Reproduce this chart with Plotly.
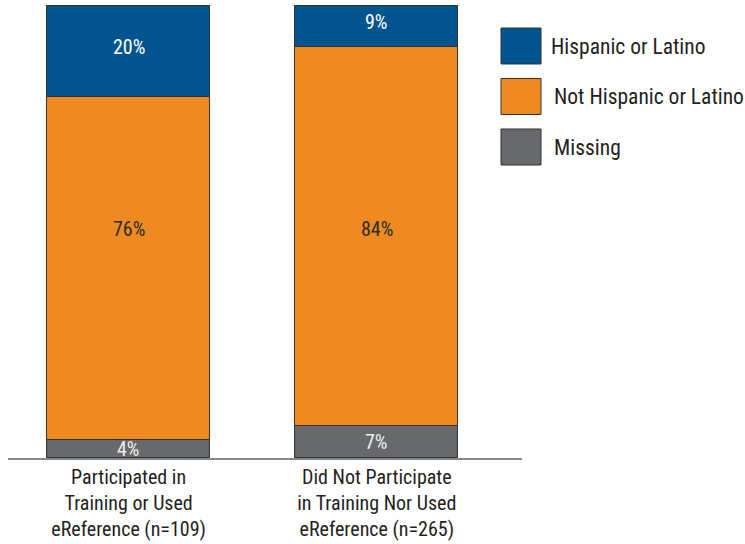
import plotly.graph_objects as go

categories = ["Participated in<br>Training or Used<br>eReference (n=109)",
              "Did Not Participate<br>in Training Nor Used<br>eReference (n=265)"]
series_names = ["Missing", "Not Hispanic or Latino", "Hispanic or Latino"]
missing = [4, 7]
not_hispanic = [76, 84]
hispanic = [20, 9]
label_texts = {
    "Missing": ["4%", "7%"],
    "Not Hispanic or Latino": ["76%", "84%"],
    "Hispanic or Latino": ["20%", "9%"],
}

colors = {"Hispanic or Latino": "#02548F",
          "Not Hispanic or Latino": "#EE8A21",
          "Missing": "#68696C"}
text_colors = {"Hispanic or Latino": "#FFFFFF",
               "Not Hispanic or Latino": "#2A2A2A",
               "Missing": "#EEEEEE"}
FONT = "Liberation Sans Narrow, Roboto Condensed, DejaVu Sans Condensed, Arial Narrow, sans-serif"

W, H = 745, 544
L, R, T, B = 8, 745 - 522, 5, 544 - 458
pw, ph = W - L - R, H - T - B

def px(x):
    return (x - L) / pw

def py(y):
    return (H - B - y) / ph

xs = [0, 1]
values = {"Missing": missing, "Not Hispanic or Latino": not_hispanic, "Hispanic or Latino": hispanic}

fig = go.Figure()
for name in series_names:
    fig.add_trace(go.Bar(
        x=xs, y=values[name], name=name, width=0.657,
        marker=dict(color=colors[name], line=dict(color="#333333", width=1)),
        showlegend=False, hoverinfo="skip"))

# value labels
base = [0, 0]
for name in series_names:
    for i in range(2):
        v = values[name][i]
        ymid = base[i] + v / 2
        if name == "Not Hispanic or Latino":
            ymid = 50.7
        if name == "Hispanic or Latino":
            ymid = base[i] + v / 2 + 1
        fig.add_annotation(x=xs[i], y=ymid, xref="x", yref="y", text=label_texts[name][i],
                           showarrow=False, font=dict(family=FONT, size=20, color=text_colors[name]))
    base = [base[i] + values[name][i] for i in range(2)]

# custom legend
legend_items = ["Hispanic or Latino", "Not Hispanic or Latino", "Missing"]
for k, name in enumerate(legend_items):
    y0 = 28 + k * 50.5
    fig.add_shape(type="rect", xref="paper", yref="paper",
                  x0=px(501), x1=px(541), y0=py(y0 + 36), y1=py(y0),
                  fillcolor=colors[name], line=dict(color="#333333", width=1))
    fig.add_annotation(xref="paper", yref="paper", x=px(549 + (0 if k == 0 else 3)), y=py(y0 + 18),
                       xanchor="left", yanchor="middle", text=name, showarrow=False,
                       font=dict(family=FONT, size=21.5, color="#231F20"))

fig.update_layout(
    width=W, height=H, margin=dict(l=L, r=R, t=T, b=B, autoexpand=False),
    barmode="stack", bargap=0,
    plot_bgcolor="white", paper_bgcolor="white",
    xaxis=dict(range=[-0.486, 1.585], tickvals=xs, ticktext=categories, automargin=False,
               showgrid=False, zeroline=False, showline=True, linecolor="#888888", linewidth=1.5,
               ticks="", tickfont=dict(family=FONT, size=20, color="#231F20"), fixedrange=True),
    yaxis=dict(range=[0, 100.3], visible=False, showgrid=False, fixedrange=True, automargin=False),
)

fig.write_html("out.html")
